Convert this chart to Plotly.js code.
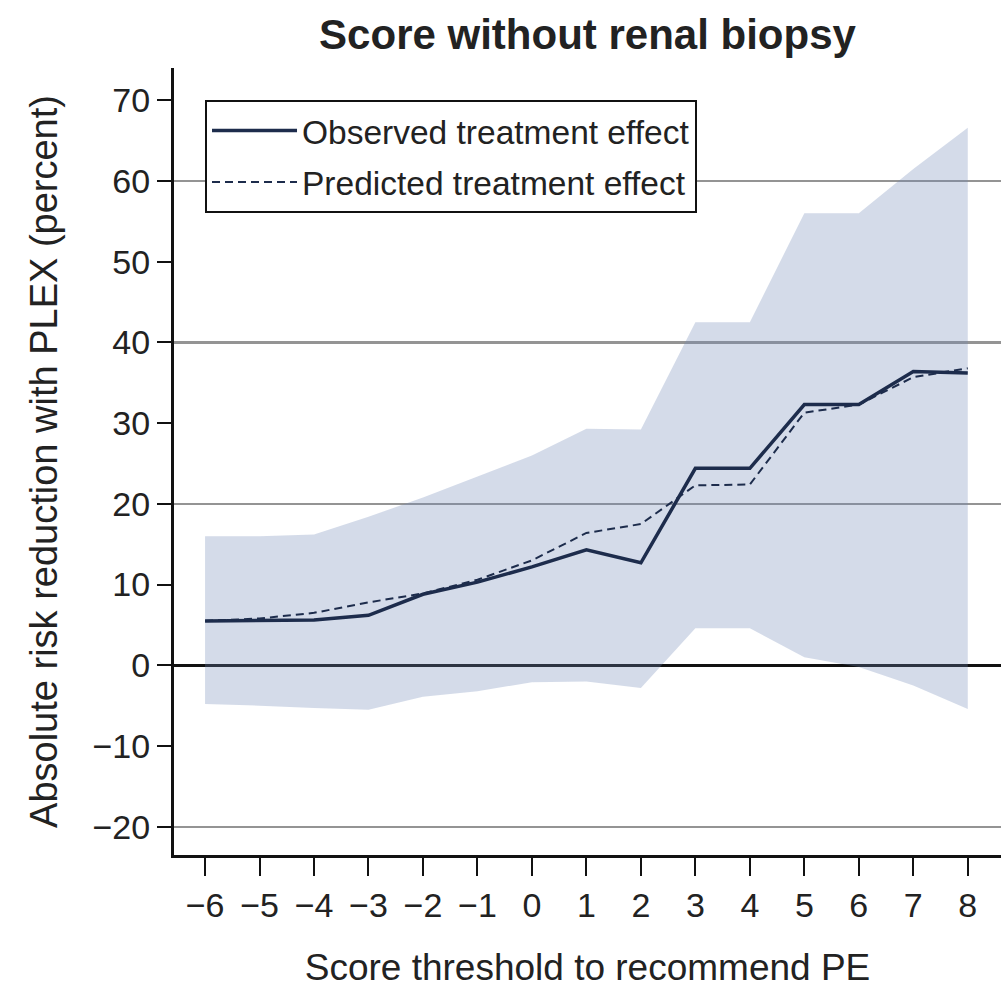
<!DOCTYPE html>
<html>
<head>
<meta charset="utf-8">
<script src="https://cdn.plot.ly/plotly-3.0.1.min.js"></script>
<style>html,body{margin:0;padding:0;background:#fff}</style>
</head>
<body>
<div id="chart" style="width:1001px;height:989px"></div>
<script>
// Data
const thresholds = [-6, -5, -4, -3, -2, -1, 0, 1, 2, 3, 4, 5, 6, 7, 8];
const observed   = [5.5, 5.5, 5.6, 6.2, 8.8, 10.3, 12.2, 14.3, 12.7, 24.4, 24.4, 32.3, 32.3, 36.4, 36.2];
const predicted  = [5.5, 5.8, 6.5, 7.8, 8.9, 10.6, 13.0, 16.4, 17.5, 22.3, 22.4, 31.3, 32.3, 35.7, 36.8];
const ciUpper    = [16.0, 16.0, 16.2, 18.4, 20.8, 23.4, 26.0, 29.3, 29.2, 42.5, 42.5, 56.0, 56.0, 61.5, 66.6];
const ciLower    = [-4.8, -5.0, -5.3, -5.5, -3.9, -3.2, -2.1, -2.0, -2.8, 4.6, 4.6, 1.0, -0.2, -2.5, -5.4];
const yTickVals  = [-20, -10, 0, 10, 20, 30, 40, 50, 60, 70];
const seriesNames = ['Observed treatment effect', 'Predicted treatment effect'];

const FONT = '"Liberation Sans", Arial, Helvetica, sans-serif';
const TXT = '#222222';
const LINE = '#1d2c4c';
const yRange = [-23.5, 74];

const traces = [
  {x: thresholds, y: ciLower, mode: 'lines', line: {width: 0}, showlegend: false, hoverinfo: 'skip', yaxis: 'y'},
  {x: thresholds, y: ciUpper, mode: 'lines', line: {width: 0}, fill: 'tonexty',
   fillcolor: 'rgba(112,136,182,0.3)', showlegend: false, hoverinfo: 'skip', yaxis: 'y'},
  {x: thresholds, y: observed, mode: 'lines', name: seriesNames[0], legendgroup: 'obs',
   line: {color: LINE, width: 3.5}, yaxis: 'y2'},
  {x: thresholds, y: predicted, mode: 'lines', name: seriesNames[1], legendgroup: 'pred',
   line: {color: LINE, width: 2, dash: '8px,5px'}, yaxis: 'y2'}
];

const layout = {
  width: 1001, height: 989,
  margin: {l: 174, r: 0, t: 68, b: 134},
  paper_bgcolor: '#ffffff', plot_bgcolor: '#ffffff',
  font: {family: FONT, color: TXT},
  title: {
    text: '<b>Score without renal biopsy</b>',
    font: {family: FONT, size: 42, color: TXT},
    x: 0.5, xref: 'paper', xanchor: 'center',
    y: 0.965, yref: 'container', yanchor: 'middle'
  },
  xaxis: {
    range: [-6.57, 8.61], tickvals: thresholds,
    ticks: 'outside', ticklen: 18, tickwidth: 2, tickcolor: '#111',
    showline: true, linewidth: 3, linecolor: '#111',
    showgrid: false, zeroline: false,
    tickfont: {family: FONT, size: 34, color: TXT},
    title: {text: 'Score threshold to recommend PE', font: {family: FONT, size: 37, color: TXT}, standoff: 32}
  },
  yaxis: {
    range: yRange, tickvals: yTickVals,
    ticks: 'outside', ticklen: 14, tickwidth: 2, tickcolor: '#111',
    showline: true, linewidth: 3, linecolor: '#111',
    showgrid: false, zeroline: true, zerolinecolor: '#111', zerolinewidth: 3,
    tickfont: {family: FONT, size: 34, color: TXT},
    title: {text: 'Absolute risk reduction with PLEX (percent)', font: {family: FONT, size: 38, color: TXT}, standoff: 24}
  },
  yaxis2: {
    overlaying: 'y', side: 'left', range: yRange, tick0: 0, dtick: 20,
    showgrid: true, gridcolor: '#949494', gridwidth: 2.5,
    showticklabels: false, ticks: '', showline: false, zeroline: false
  },
  legend: {
    x: 0.0375, y: 0.959, xanchor: 'left', yanchor: 'top',
    traceorder: 'grouped', tracegroupgap: 5, itemwidth: 85,
    bgcolor: '#ffffff', bordercolor: '#111', borderwidth: 2,
    font: {family: FONT, size: 33.5, color: TXT}
  },
  showlegend: true
};

Plotly.newPlot('chart', traces, layout, {staticPlot: true, displayModeBar: false});
</script>
</body>
</html>
